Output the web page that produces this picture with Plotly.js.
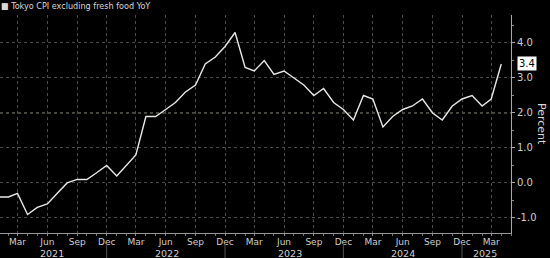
<!DOCTYPE html>
<html>
<head>
<meta charset="utf-8">
<script src="https://cdn.plot.ly/plotly-3.0.1.min.js"></script>
<style>
  html, body { margin: 0; padding: 0; background: #000; }
  #chart { width: 550px; height: 258px; }
</style>
</head>
<body>
<div id="chart"></div>
<script>
// Monthly observations (month-start dates), Tokyo CPI excluding fresh food, YoY %
const months = [
  "2021-01","2021-02","2021-03","2021-04","2021-05","2021-06","2021-07","2021-08","2021-09","2021-10","2021-11","2021-12",
  "2022-01","2022-02","2022-03","2022-04","2022-05","2022-06","2022-07","2022-08","2022-09","2022-10","2022-11","2022-12",
  "2023-01","2023-02","2023-03","2023-04","2023-05","2023-06","2023-07","2023-08","2023-09","2023-10","2023-11","2023-12",
  "2024-01","2024-02","2024-03","2024-04","2024-05","2024-06","2024-07","2024-08","2024-09","2024-10","2024-11","2024-12",
  "2025-01","2025-02","2025-03","2025-04"
];
const cpiValues = [
  -0.4,-0.4,-0.3,-0.9,-0.7,-0.6,-0.3,0.0,0.1,0.1,0.3,0.5,
  0.2,0.5,0.8,1.9,1.9,2.1,2.3,2.6,2.8,3.4,3.6,3.9,
  4.3,3.3,3.2,3.5,3.1,3.2,3.0,2.8,2.5,2.7,2.3,2.1,
  1.8,2.5,2.4,1.6,1.9,2.1,2.2,2.4,2.0,1.8,2.2,2.4,
  2.5,2.2,2.4,3.4
];
const seriesName = "Tokyo CPI excluding fresh food YoY";
const xTickVals = [
  "2021-03","2021-06","2021-09","2021-12",
  "2022-03","2022-06","2022-09","2022-12",
  "2023-03","2023-06","2023-09","2023-12",
  "2024-03","2024-06","2024-09","2024-12",
  "2025-03"
];
const xTickText = [
  "Mar","Jun","Sep","Dec","Mar","Jun","Sep","Dec","Mar","Jun","Sep","Dec","Mar","Jun","Sep","Dec","Mar"
];
const yearLabels = ["2021","2022","2023","2024","2025"];
const yearLabelPos = ["2021-06-16","2022-06-05","2023-06-18","2024-06-01","2025-02-10"];
const yearSeparators = ["2021-12","2022-12","2023-12","2024-12"];
const yTickVals = [-1, 0, 1, 2, 3, 4];
const yTickText = ["-1.0","0.0","1.0","2.0","3.0","4.0"];
const highlightLevel = 2.0;

const lastVal = cpiValues[cpiValues.length - 1];

const trace = {
  x: months.map(m => m + "-01"),
  y: cpiValues,
  type: "scatter",
  mode: "lines",
  name: seriesName,
  line: { color: "#e8e8e8", width: 1.4 },
  hoverinfo: "skip"
};

const txtColor = "#cfcfcf";
const gridColor = "#4a4a4a";

const shapes = [
  {
    type: "line", xref: "paper", yref: "y",
    x0: 0, x1: 1, y0: highlightLevel, y1: highlightLevel,
    line: { color: "#7f8f55", width: 1, dash: "dot" }, layer: "below"
  }
].concat(yearSeparators.map(d => ({
  type: "line", xref: "x", yref: "paper",
  x0: d + "-01", x1: d + "-01", y0: -0.05, y1: -0.12,
  line: { color: "#555", width: 1 }
})));

const annotations = [
  {
    xref: "paper", yref: "paper", x: -0.002, y: 1.04, xanchor: "left", yanchor: "middle",
    text: "■ " + seriesName, showarrow: false,
    font: { family: "DejaVu Sans Condensed, Liberation Sans Narrow, sans-serif", size: 9, color: "#d8d8d8" }
  },
  {
    xref: "paper", yref: "y", x: 1.0, y: lastVal, xshift: 6, xanchor: "left", yanchor: "middle",
    text: lastVal.toFixed(1), showarrow: false, bgcolor: "#ffffff", borderpad: 1,
    font: { family: "DejaVu Sans, sans-serif", size: 10, color: "#000" }
  },
  {
    xref: "paper", yref: "paper", x: 1.0, y: 0.5, xshift: 31, xanchor: "center", yanchor: "middle",
    text: "Percent", textangle: 90, showarrow: false,
    font: { family: "DejaVu Sans, sans-serif", size: 11, color: "#d8d8d8" }
  }
].concat(yearLabels.map((t, i) => ({
  xref: "x", yref: "paper", x: yearLabelPos[i], y: -0.093, yanchor: "middle", xanchor: "center",
  text: t, showarrow: false,
  font: { family: "DejaVu Sans, sans-serif", size: 9.5, color: txtColor }
})));

const layout = {
  width: 550, height: 258,
  paper_bgcolor: "#000000", plot_bgcolor: "#000000",
  margin: { l: 0, r: 39, t: 15, b: 25, pad: 0 },
  showlegend: false,
  xaxis: {
    type: "date",
    range: ["2021-01-06", "2025-05-01"],
    tickmode: "array",
    tickvals: xTickVals.map(m => m + "-01"),
    ticktext: xTickText,
    ticks: "outside", ticklen: 2, tickcolor: "#888",
    ticklabelstandoff: -2,
    showgrid: true, gridcolor: gridColor, griddash: "dot", gridwidth: 1,
    showline: true, linecolor: "#999", linewidth: 1,
    zeroline: false,
    tickfont: { family: "DejaVu Sans, sans-serif", size: 9, color: txtColor },
    minor: { dtick: "M1", tick0: "2021-01-01", ticks: "outside", ticklen: 2, tickcolor: "#777", showgrid: false }
  },
  yaxis: {
    side: "right",
    range: [-1.43, 4.8],
    tickmode: "array",
    tickvals: yTickVals,
    ticktext: yTickText,
    ticks: "outside", ticklen: 3, tickcolor: "#aaa",
    showgrid: true, gridcolor: gridColor, griddash: "dot", gridwidth: 1,
    showline: true, linecolor: "#aaa", linewidth: 1,
    zeroline: false,
    tickfont: { family: "DejaVu Sans, sans-serif", size: 10, color: txtColor },
    minor: { dtick: 0.5, tick0: 0, ticks: "outside", ticklen: 2, tickcolor: "#888", showgrid: false }
  },
  shapes: shapes,
  annotations: annotations
};

Plotly.newPlot("chart", [trace], layout, { displayModeBar: false, staticPlot: true });
</script>
</body>
</html>
